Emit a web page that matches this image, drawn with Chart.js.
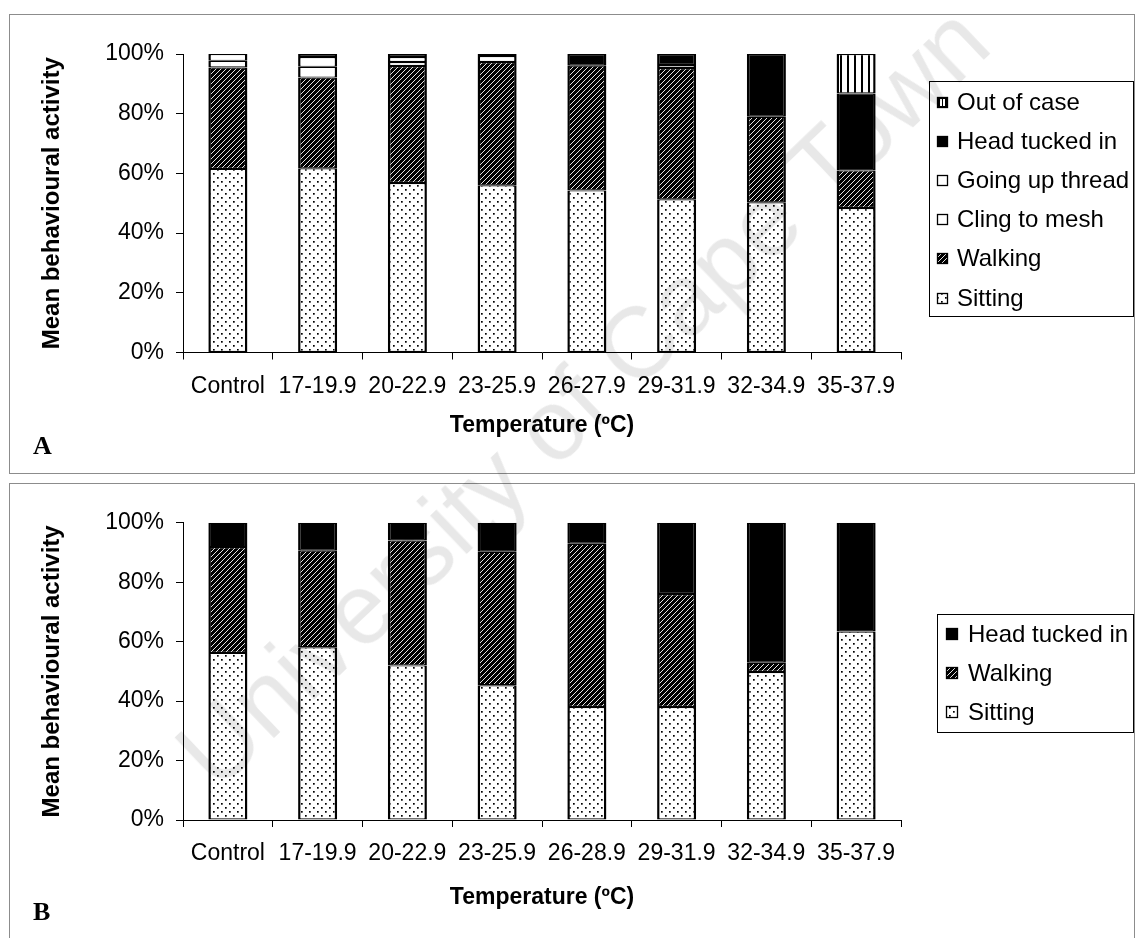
<!DOCTYPE html>
<html>
<head>
<meta charset="utf-8">
<script src="https://cdn.jsdelivr.net/npm/chart.js@4/dist/chart.umd.min.js"></script>
<style>
  html, body { margin: 0; padding: 0; background: #fff; }
  #page { position: relative; width: 1135px; height: 938px; overflow: hidden; background: #fff; }
  .panel { position: absolute; border: 1px solid #8c8c8c; box-sizing: border-box; }
  .cv { position: absolute; left: 0; }
  .tag { position: absolute; font: bold 26px "Liberation Serif", "Times New Roman", serif; line-height: 1; color: #000; }
  .wm { position: absolute; left: 582px; top: 396px; transform: translate(-50%, -50%) rotate(-43.7deg);
        font: 100px "Liberation Sans", Arial, sans-serif; color: rgba(0,0,0,0.09); white-space: nowrap; pointer-events: none; }
</style>
</head>
<body>
<div id="page">
  <div class="panel" style="left:9px; top:14px; width:1126px; height:460px;"></div>
  <div class="panel" style="left:9px; top:483px; width:1126px; height:470px;"></div>
  <canvas id="chartA" class="cv" width="1135" height="478" style="top:0px;"></canvas>
  <canvas id="chartB" class="cv" width="1135" height="460" style="top:478px;"></canvas>
  <div class="tag" style="left:33px; top:433px;">A</div>
  <div class="tag" style="left:33px; top:899px;">B</div>
  <div class="wm">University of Cape Town</div>
</div>
<script>
// ---- data (percent of behavioural activity) ----
const categoriesA = ['Control', '17-19.9', '20-22.9', '23-25.9', '26-27.9', '29-31.9', '32-34.9', '35-37.9'];
const sittingA    = [61.5, 61.7, 56.8, 56.0, 54.3, 51.3, 50.3, 48.4];
const walkingA    = [34.0, 30.4, 39.2, 41.3, 41.8, 44.0, 28.7, 12.6];
const clingA      = [2.2, 3.6, 1.3, 2.0, 0, 1.0, 0, 0];
const threadA     = [2.3, 3.3, 1.7, 0, 0, 0, 0, 0];
const headA       = [0, 1.0, 1.0, 0.7, 3.9, 3.7, 21.0, 25.8];
const outOfCaseA  = [0, 0, 0, 0, 0, 0, 0, 13.2];

const categoriesB = ['Control', '17-19.9', '20-22.9', '23-25.9', '26-28.9', '29-31.9', '32-34.9', '35-37.9'];
const sittingB    = [56.2, 58.1, 52.0, 45.3, 38.0, 38.0, 49.8, 63.4];
const walkingB    = [35.6, 32.5, 42.0, 44.9, 54.9, 38.0, 3.1, 0];
const headB       = [8.2, 9.4, 6.0, 9.8, 7.1, 24.0, 47.1, 36.6];

const yTickValues = [0, 20, 40, 60, 80, 100];
const xTitle = 'Temperature (ºC)';
const yTitle = 'Mean behavioural activity';

// ---- fill patterns ----
function makePattern(w, h, paint) {
  const c = document.createElement('canvas');
  c.width = w; c.height = h;
  const g = c.getContext('2d');
  paint(g, w, h);
  return g.createPattern(c, 'repeat');
}
const dotted = makePattern(8, 8, (g, w, h) => {
  g.fillStyle = '#fff'; g.fillRect(0, 0, w, h);
  g.fillStyle = '#000';
  g.fillRect(1, 1, 1.7, 1.7);
  g.fillRect(5, 5, 1.7, 1.7);
});
const hatched = makePattern(5, 5, (g, w, h) => {
  g.fillStyle = '#000'; g.fillRect(0, 0, w, h);
  g.strokeStyle = '#fff'; g.lineWidth = 0.9;
  g.beginPath();
  g.moveTo(-1, 6); g.lineTo(6, -1);
  g.moveTo(-1, 1); g.lineTo(1, -1);
  g.moveTo(4, 6); g.lineTo(6, 4);
  g.stroke();
});
const striped = makePattern(7, 4, (g, w, h) => {
  g.fillStyle = '#fff'; g.fillRect(0, 0, w, h);
  g.fillStyle = '#000'; g.fillRect(0, 0, 2, h);
});

const FONT = '"Liberation Sans", Arial, sans-serif';

// ---- boxed legend drawn next to the plot ----
const boxedLegend = {
  id: 'boxedLegend',
  afterDraw(chart, args, o) {
    const ctx = chart.ctx;
    const ds = chart.data.datasets;
    ctx.save();
    ctx.strokeStyle = '#000';
    ctx.lineWidth = 1;
    ctx.strokeRect(o.left + 0.5, o.top + 0.5, o.width, o.height);
    ctx.font = o.fontSize + 'px ' + FONT;
    ctx.textBaseline = 'middle';
    ctx.textAlign = 'left';
    for (let i = 0; i < ds.length; i++) {
      const d = ds[ds.length - 1 - i];
      const y = o.firstY + i * o.step;
      const s = o.marker;
      const mx = o.markerX, my = Math.round(y - s / 2);
      if (d.backgroundColor === striped) {
        // small barred swatch: black box with two white bars
        ctx.fillStyle = '#000';
        ctx.fillRect(mx, my, s, s);
        ctx.fillStyle = '#fff';
        ctx.fillRect(mx + 3, my + 2, 2, s - 4);
        ctx.fillRect(mx + 6, my + 2, 2, s - 4);
      } else {
        ctx.fillStyle = d.backgroundColor;
        ctx.fillRect(mx, my, s, s);
      }
      ctx.strokeStyle = '#000';
      ctx.lineWidth = 1.3;
      ctx.strokeRect(mx + 0.5, my + 0.5, s - 1, s - 1);
      ctx.fillStyle = '#000';
      ctx.fillText(d.label, o.textX, y + 1);
    }
    ctx.restore();
  }
};

function makeChart(id, labels, datasets, cfg) {
  return new Chart(document.getElementById(id), {
    type: 'bar',
    data: { labels, datasets },
    options: {
      responsive: false,
      animation: false,
      devicePixelRatio: 1,
      layout: { padding: { left: 10, top: cfg.top, right: 234, bottom: cfg.bottom } },
      datasets: {
        bar: {
          categoryPercentage: 1,
          barPercentage: 0.435,
          borderColor: '#000',
          borderWidth: { left: 2.5, right: 2.5, top: 1.2, bottom: 1.2 },
          borderSkipped: false
        }
      },
      plugins: {
        legend: { display: false },
        tooltip: { enabled: false },
        boxedLegend: cfg.legend
      },
      scales: {
        x: {
          stacked: true,
          grid: { display: true, drawOnChartArea: false, offset: true, tickLength: 7, color: '#000', lineWidth: 1 },
          border: { display: true, color: '#000', width: 1 },
          ticks: { color: '#000', font: { family: FONT, size: 23 }, padding: 13, maxRotation: 0, autoSkip: false },
          title: { display: true, text: xTitle, color: '#000', font: { family: FONT, size: 23, weight: 'bold' }, padding: { top: 0, bottom: 0 } },
          afterFit(s) { s.height = cfg.xHeight; }
        },
        y: {
          stacked: true,
          min: 0,
          max: 100,
          afterBuildTicks(s) { s.ticks = yTickValues.map(v => ({ value: v })); },
          grid: { display: true, drawOnChartArea: false, tickLength: 7, color: '#000', lineWidth: 1 },
          border: { display: true, color: '#000', width: 1 },
          ticks: { color: '#000', font: { family: FONT, size: 23 }, padding: 12, callback: v => v + '%' },
          title: { display: true, text: yTitle, color: '#000', font: { family: FONT, size: 24, weight: 'bold' }, padding: { top: 28, bottom: 0 } },
          afterFit(s) { s.width = 173; }
        }
      }
    },
    plugins: [boxedLegend]
  });
}

makeChart('chartA', categoriesA, [
  { label: 'Sitting',         data: sittingA,   backgroundColor: dotted },
  { label: 'Walking',         data: walkingA,   backgroundColor: hatched },
  { label: 'Cling to mesh',   data: clingA,     backgroundColor: '#fff' },
  { label: 'Going up thread', data: threadA,    backgroundColor: '#fff' },
  { label: 'Head tucked in',  data: headA,      backgroundColor: '#000' },
  { label: 'Out of case',     data: outOfCaseA, backgroundColor: striped }
], {
  top: 54, bottom: 38.5, xHeight: 87,
  legend: { left: 929, top: 81, width: 204, height: 235, markerX: 937, marker: 11, textX: 957, firstY: 102, step: 39.2, fontSize: 24 }
});

makeChart('chartB', categoriesB, [
  { label: 'Sitting',        data: sittingB, backgroundColor: dotted },
  { label: 'Walking',        data: walkingB, backgroundColor: hatched },
  { label: 'Head tucked in', data: headB,    backgroundColor: '#000' }
], {
  top: 44.7, bottom: 27, xHeight: 91,
  legend: { left: 937, top: 136, width: 196, height: 118, markerX: 946, marker: 12, textX: 968, firstY: 156, step: 39, fontSize: 24 }
});
</script>
</body>
</html>
